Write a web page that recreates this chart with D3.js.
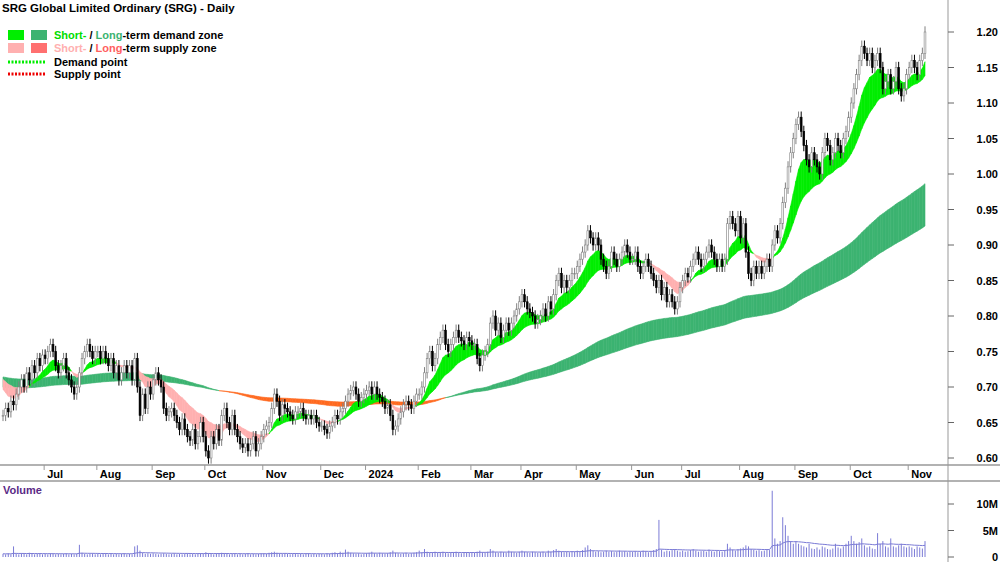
<!DOCTYPE html>
<html><head><meta charset="utf-8">
<script src="https://cdn.jsdelivr.net/npm/d3@7/dist/d3.min.js"></script>
<style>body{margin:0;background:#fff}text{font-family:"Liberation Sans",Arial,sans-serif}</style>
</head><body><svg id="c" width="1000" height="562"></svg>
<script>
const months = ["Jun","Jul","Aug","Sep","Oct","Nov","Dec","2024","Feb","Mar","Apr","May","Jun","Jul","Aug","Sep","Oct","Nov"];
const closeJun23=[0.66,0.67,0.665,0.68,0.675,0.69,0.70,0.71,0.70,0.72,0.71,0.73,0.72,0.74,0.73,0.745];
const closeJul23=[0.74,0.75,0.76,0.75,0.73,0.72,0.73,0.74,0.72,0.71,0.70,0.69,0.70,0.72,0.74,0.75,0.76,0.75,0.74,0.75];
const closeAug23=[0.75,0.74,0.75,0.74,0.73,0.74,0.72,0.73,0.71,0.72,0.73,0.72,0.73,0.71,0.74,0.70,0.66,0.69,0.67,0.70,0.69];
const closeSep23=[0.71,0.72,0.71,0.70,0.67,0.66,0.665,0.67,0.66,0.65,0.64,0.655,0.64,0.63,0.625,0.64,0.62,0.63,0.65,0.63];
const closeOct23=[0.61,0.60,0.63,0.62,0.64,0.625,0.66,0.67,0.65,0.64,0.66,0.64,0.63,0.62,0.615,0.62,0.61,0.62,0.63,0.61,0.62,0.63];
const closeNov23=[0.64,0.645,0.65,0.67,0.69,0.68,0.66,0.675,0.67,0.665,0.66,0.655,0.665,0.665,0.67,0.66,0.655,0.66,0.655,0.66,0.65,0.645];
const closeDec23=[0.645,0.64,0.635,0.645,0.65,0.66,0.655,0.665,0.67,0.68,0.69,0.695,0.70,0.69,0.68,0.685,0.69];
const closeJan24=[0.695,0.70,0.69,0.70,0.69,0.685,0.68,0.67,0.675,0.66,0.64,0.645,0.655,0.665,0.675,0.68,0.675,0.67,0.68,0.69];
const closeFeb24=[0.69,0.70,0.72,0.74,0.75,0.73,0.74,0.76,0.77,0.78,0.76,0.75,0.76,0.77,0.78,0.77,0.765,0.76,0.77,0.765];
const closeMar24=[0.76,0.76,0.74,0.73,0.745,0.75,0.76,0.79,0.80,0.78,0.79,0.77,0.78,0.79,0.78,0.79,0.80,0.81,0.82];
const closeApr24=[0.83,0.82,0.81,0.805,0.80,0.79,0.795,0.80,0.81,0.80,0.82,0.81,0.83,0.85,0.86,0.84,0.85,0.84,0.85,0.86,0.86];
const closeMay24=[0.87,0.88,0.89,0.90,0.92,0.91,0.90,0.91,0.90,0.88,0.87,0.86,0.87,0.89,0.88,0.87,0.88,0.89,0.90,0.89,0.88];
const closeJun24=[0.88,0.89,0.87,0.86,0.87,0.88,0.87,0.86,0.85,0.84,0.85,0.83,0.84,0.82,0.83,0.82,0.81,0.82,0.84];
const closeJul24=[0.85,0.86,0.855,0.87,0.88,0.89,0.88,0.87,0.88,0.89,0.90,0.89,0.88,0.87,0.88,0.87,0.88,0.93,0.94,0.93,0.92,0.94];
const closeAug24=[0.91,0.93,0.89,0.86,0.85,0.87,0.86,0.87,0.86,0.87,0.88,0.87,0.90,0.92,0.91,0.93,0.96,0.98,1.01,1.03,1.05];
const closeSep24=[1.07,1.08,1.06,1.04,1.02,1.01,1.03,1.02,1.01,1.00,1.03,1.05,1.04,1.02,1.03,1.05,1.04,1.03,1.05,1.06,1.08];
const closeOct24=[1.10,1.12,1.14,1.16,1.18,1.17,1.16,1.17,1.15,1.16,1.17,1.15,1.12,1.13,1.14,1.12,1.13,1.15,1.12,1.11,1.12,1.14];
const closeNov24=[1.15,1.16,1.15,1.14,1.16,1.17,1.20];
const volJun23=[0.6,0.5,0.7,0.5,2.0,0.6,0.5,0.7,0.6,0.5,0.8,0.6,0.5,0.6,0.7,0.5];
const volJul23=[0.6,0.5,0.7,0.6,0.5,0.6,0.5,0.6,0.7,0.5,0.6,0.5,0.6,2.3,0.8,0.6,0.5,0.6,0.7,0.5];
const volAug23=[0.6,0.5,0.6,0.7,0.5,0.6,0.5,0.6,0.5,0.6,0.7,0.5,0.6,0.5,2.0,2.2,1.2,0.8,0.6,0.7,0.6];
const volSep23=[0.7,0.6,0.5,0.6,0.7,0.6,0.5,0.6,0.7,0.5,0.6,0.5,0.6,0.7,0.5,0.6,0.5,0.6,0.7,0.6];
const volOct23=[0.9,0.7,0.6,0.5,0.7,0.6,0.8,0.7,0.6,0.5,0.6,0.7,0.5,0.6,0.5,0.6,0.7,0.5,0.6,0.5,0.6,0.7];
const volNov23=[0.7,0.6,0.8,0.9,1.0,0.8,0.7,0.6,0.7,0.6,0.5,0.6,0.7,0.5,0.6,0.5,0.6,0.7,0.5,0.6,0.5,0.6];
const volDec23=[0.6,0.5,0.7,0.6,0.8,0.9,0.7,1.0,0.8,1.4,1.0,0.8,0.7,0.6,0.7,0.5,0.6];
const volJan24=[0.7,0.8,1.0,0.7,0.6,0.8,0.7,0.6,0.7,0.9,1.2,0.8,0.7,0.6,0.7,0.8,0.6,0.7,0.8,0.9];
const volFeb24=[1.2,0.9,1.5,1.0,0.8,0.9,1.0,0.8,0.9,1.0,0.8,0.7,0.8,0.9,1.0,0.8,0.7,0.8,0.9,0.8];
const volMar24=[0.9,0.8,1.0,1.2,0.9,0.8,1.0,1.5,1.2,0.9,0.8,1.0,0.9,0.8,1.2,1.0,0.9,0.8,1.0];
const volApr24=[1.2,1.0,0.9,0.8,1.0,0.9,0.8,0.9,1.0,0.8,1.2,1.0,1.3,1.5,1.2,1.0,0.9,1.0,0.9,1.1,1.0];
const volMay24=[1.2,1.0,1.3,1.8,2.2,1.5,1.2,1.0,1.1,0.9,1.0,1.2,1.0,1.1,0.9,1.0,1.2,1.0,1.1,0.9,1.0];
const volJun24=[1.0,1.1,0.9,1.0,1.2,1.1,0.9,1.0,1.3,1.5,7.0,1.4,1.0,1.2,1.1,1.3,1.5,1.2,1.0];
const volJul24=[1.2,1.0,1.1,1.3,1.5,1.2,1.0,1.1,1.2,1.0,1.4,1.1,1.0,1.2,1.1,1.0,1.3,2.5,1.8,1.4,1.2,1.5];
const volAug24=[1.6,1.8,2.2,2.0,1.5,1.4,1.2,1.3,1.1,1.2,1.4,1.3,12.5,3.5,2.5,3.0,7.5,6.0,4.0,3.0,2.5];
const volSep24=[3.0,2.5,2.2,2.0,1.8,2.5,1.6,1.5,1.8,1.4,2.0,1.8,1.5,1.4,1.6,2.5,1.8,1.6,2.0,2.5,3.0];
const volOct24=[4.0,3.0,2.5,2.8,3.5,2.2,1.8,2.0,1.6,1.5,4.5,2.5,3.0,2.0,1.8,3.5,2.0,1.8,2.2,2.5,2.0,1.8];
const volNov24=[2.0,1.8,1.5,2.0,1.8,1.6,3.0];
const priceTicks=[0.60,0.65,0.70,0.75,0.80,0.85,0.90,0.95,1.00,1.05,1.10,1.15,1.20];
const volTicks=[[0,"0"],[5,"5M"],[10,"10M"]];
// starting levels of the zone averages at the left edge
const shortSeed=[0.705,0.715], longSeed=[0.715,0.70];

const closeMonths=[closeJun23,closeJul23,closeAug23,closeSep23,closeOct23,closeNov23,closeDec23,closeJan24,closeFeb24,closeMar24,closeApr24,closeMay24,closeJun24,closeJul24,closeAug24,closeSep24,closeOct24,closeNov24];
const volMonths=[volJun23,volJul23,volAug23,volSep23,volOct23,volNov23,volDec23,volJan24,volFeb24,volMar24,volApr24,volMay24,volJun24,volJul24,volAug24,volSep24,volOct24,volNov24];
const closes=closeMonths.flat(), vols=volMonths.flat();
const N=closes.length;
const monthStart=[];let acc=0;closeMonths.forEach(m=>{monthStart.push(acc);acc+=m.length;});

const svg=d3.select("#c");
const x=d3.scaleLinear().domain([0,N-1]).range([3,925]);
const y=d3.scaleLinear().domain([0.60,1.20]).range([458,32]);
const yv=d3.scaleLinear().domain([0,10]).range([557,504]);

function ema(a,n,seed){const k=2/(n+1);let e=seed===undefined?a[0]:seed;return a.map(v=>e=e+k*(v-e));}
function band(f,s,up,down){
  const g=svg.append("g");
  for(let i=0;i<N-1;i++){
    const pts=[[x(i),y(f[i])],[x(i+1),y(f[i+1])],[x(i+1),y(s[i+1])],[x(i),y(s[i])]];
    const col=f[i+1]>=s[i+1]?up:down;
    g.append("path").attr("d","M"+pts.join("L")+"Z").attr("fill",col).attr("stroke",col).attr("stroke-width",0.6);
  }
}
const lf=ema(closes,135,longSeed[0]),ls=ema(closes,210,longSeed[1]);
band(lf,ls,"#3cb371","#ff6a20");
const sf=ema(closes,10,shortSeed[0]),ss=ema(closes,24,shortSeed[1]);
band(sf,ss,"#00ee00","#ffb0b0");

const cg=svg.append("g");
for(let i=0;i<N;i++){
  const c=closes[i],o=i?closes[i-1]:c;
  const hi=Math.max(o,c)+0.008,lo=Math.min(o,c)-0.008;
  const up=c>=o;
  cg.append("line").attr("x1",x(i)).attr("x2",x(i)).attr("y1",y(hi)).attr("y2",y(lo)).attr("stroke",up?"#808080":"#000");
  const top=y(Math.max(o,c)),bot=y(Math.min(o,c));
  cg.append("rect").attr("x",x(i)-0.9).attr("y",top).attr("width",1.8).attr("height",Math.max(1,bot-top))
    .attr("fill",up?"#fff":"#000").attr("stroke",up?"#808080":"#000").attr("stroke-width",0.6);
}

svg.append("line").attr("x1",948).attr("x2",948).attr("y1",0).attr("y2",562).attr("stroke","#999");
svg.append("line").attr("x1",0).attr("x2",1000).attr("y1",465).attr("y2",465).attr("stroke","#999").attr("stroke-width",1.5);
svg.append("line").attr("x1",0).attr("x2",1000).attr("y1",481).attr("y2",481).attr("stroke","#999").attr("stroke-width",1.5);
priceTicks.forEach(p=>{
  svg.append("line").attr("x1",948).attr("x2",954).attr("y1",y(p)).attr("y2",y(p)).attr("stroke","#666");
  svg.append("text").attr("x",998).attr("y",y(p)+4).attr("text-anchor","end").attr("font-size",11).attr("font-weight","bold").text(p.toFixed(2));
});
monthStart.forEach((s,i)=>{
  if(i===0)return;
  const xx=x(s)-1;
  svg.append("line").attr("x1",xx).attr("x2",xx).attr("y1",465).attr("y2",470).attr("stroke","#999");
  svg.append("text").attr("x",xx+3).attr("y",478).attr("font-size",11).attr("font-weight","bold").text(months[i]);
});
const vg=svg.append("g");
vols.forEach((v,i)=>vg.append("line").attr("x1",x(i)).attr("x2",x(i)).attr("y1",yv(0)).attr("y2",yv(v)).attr("stroke","#7b7bd6").attr("stroke-width",1));
const vma=ema(vols,30);
svg.append("path").datum(vma).attr("fill","none").attr("stroke","#7b7bd6").attr("stroke-width",1)
  .attr("d",d3.line().x((d,i)=>x(i)).y(d=>yv(d)));
volTicks.forEach(([v,l])=>{
  svg.append("line").attr("x1",948).attr("x2",954).attr("y1",yv(v)).attr("y2",yv(v)).attr("stroke","#666");
  svg.append("text").attr("x",998).attr("y",yv(v)+4).attr("text-anchor","end").attr("font-size",11).attr("font-weight","bold").text(l);
});
svg.append("text").attr("x",3).attr("y",494).attr("font-size",11).attr("font-weight","bold").attr("fill","#5b2a86").text("Volume");

svg.append("text").attr("x",2).attr("y",12).attr("font-size",11.5).attr("font-weight","bold").text("SRG Global Limited Ordinary (SRG) - Daily");
const lg=svg.append("g").attr("font-size",11).attr("font-weight","bold");
lg.append("rect").attr("x",8).attr("y",30).attr("width",16).attr("height",10).attr("fill","#00ee00");
lg.append("rect").attr("x",31).attr("y",30).attr("width",16).attr("height",10).attr("fill","#3cb371");
lg.append("rect").attr("x",8).attr("y",43).attr("width",16).attr("height",10).attr("fill","#ffb0b0");
lg.append("rect").attr("x",31).attr("y",43).attr("width",16).attr("height",10).attr("fill","#ff7070");
let t=lg.append("text").attr("x",54).attr("y",39);
t.append("tspan").attr("fill","#00dd00").text("Short-");t.append("tspan").text(" / ");
t.append("tspan").attr("fill","#3cb371").text("Long");t.append("tspan").text("-term demand zone");
t=lg.append("text").attr("x",54).attr("y",52);
t.append("tspan").attr("fill","#ffb0b0").text("Short-");t.append("tspan").text(" / ");
t.append("tspan").attr("fill","#ff6060").text("Long");t.append("tspan").text("-term supply zone");
lg.append("line").attr("x1",8).attr("x2",46).attr("y1",62).attr("y2",62).attr("stroke","#00ee00").attr("stroke-width",3).attr("stroke-dasharray","2,1.5");
lg.append("line").attr("x1",8).attr("x2",46).attr("y1",74).attr("y2",74).attr("stroke","#ee0000").attr("stroke-width",3).attr("stroke-dasharray","2,1.5");
lg.append("text").attr("x",54).attr("y",66).text("Demand point");
lg.append("text").attr("x",54).attr("y",78).text("Supply point");
</script></body></html>
